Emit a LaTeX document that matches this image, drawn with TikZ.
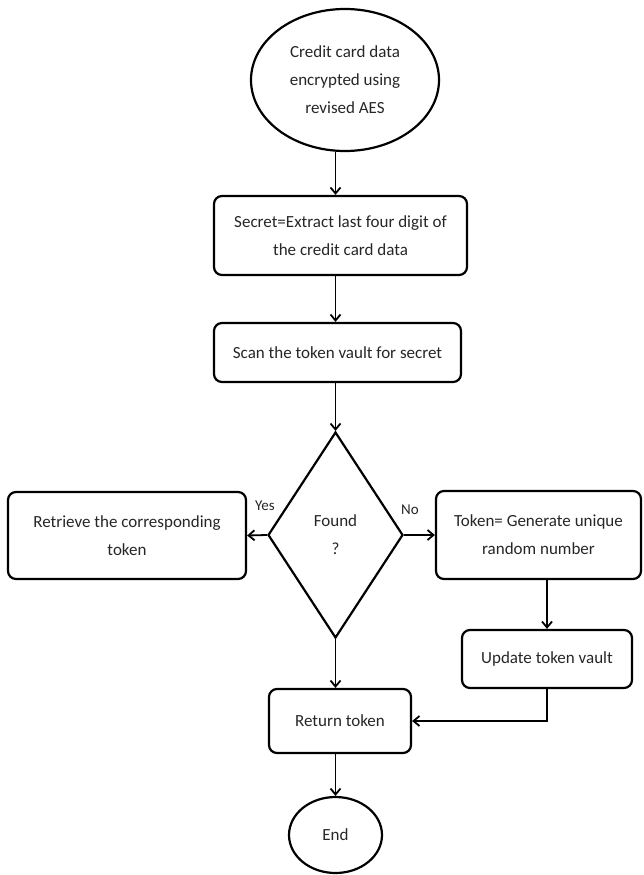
\documentclass[tikz,border=0pt]{standalone}
\usepackage{fontspec}
\setmainfont{Carlito}
\usetikzlibrary{shapes.geometric,arrows.meta,calc}
\begin{document}
\begin{tikzpicture}[x=1pt,y=-1pt,
 every node/.style={font=\fontsize{17}{28}\selectfont, align=center, text=black!85},
 proc/.style={draw, line width=2.2pt, rounded corners=8pt, inner sep=0pt},
 term/.style={draw, ellipse, line width=2.2pt, inner sep=0pt},
 dec/.style={draw, diamond, line width=2.2pt, inner sep=0pt, aspect=0.65},
 arr/.style={line width=1.8pt, -{Straight Barb[length=6pt,width=10pt]}},
 lbl/.style={font=\fontsize{15}{16}\selectfont}]
\useasboundingbox (0,0) rectangle (644,875);
\node[term, minimum width=188pt, minimum height=142pt] (start) at (345,80) {Credit card data\\encrypted using\\revised AES};
\node[proc, minimum width=253pt, minimum height=79pt] (b1) at (340.5,235.5) {Secret=Extract last four digit of\\the credit card data};
\node[proc, minimum width=247pt, minimum height=59pt] (b2) at (337.5,352.5) {Scan the token vault for secret};
\node[dec, minimum width=135pt, minimum height=206pt] (dec) at (335.5,535) {Found\\?};
\node[proc, minimum width=238pt, minimum height=87pt] (ret1) at (127,535.5) {Retrieve the corresponding\\token};
\node[proc, minimum width=205pt, minimum height=88pt] (gen) at (538.5,535) {Token= Generate unique\\random number};
\node[proc, minimum width=170pt, minimum height=58pt] (upd) at (547,659) {Update token vault};
\node[proc, minimum width=142pt, minimum height=64pt] (rt) at (340,721) {Return token};
\node[term, minimum width=93pt, minimum height=76pt] (end) at (335.5,835) {End};
\node[lbl] (yes) at (265,506) {Yes};
\node[lbl] (no) at (410,510) {No};
\draw[arr] (start.south -| dec.north) -- (b1.north -| dec.north);
\draw[arr] (b1.south -| dec.north) -- (b2.north -| dec.north);
\draw[arr] (b2.south -| dec.north) -- (dec.north);
\draw[arr] (dec.west) -- (ret1.east);
\draw[arr] (dec.east) -- (gen.west);
\draw[arr] (upd.north |- gen.south) -- (upd.north);
\draw[arr] (dec.south) -- (rt.north -| dec.south);
\draw[arr] (upd.south) |- (rt.east);
\draw[arr] (rt.south -| end.north) -- (end.north);
\end{tikzpicture}
\end{document}
